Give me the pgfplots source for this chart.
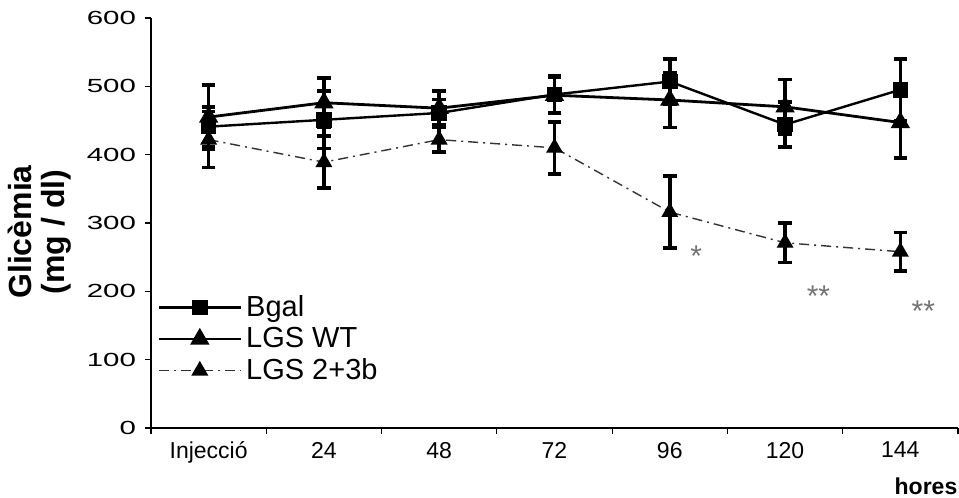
\documentclass[border=0pt]{standalone}
\usepackage{fontspec}
\setmainfont{Liberation Sans}
\newfontfamily\wideticks[FakeStretch=1.55]{Liberation Sans}
\usepackage{pgfplots}
\pgfplotsset{compat=1.18}

\begin{document}
\begin{tikzpicture}
\useasboundingbox (-75.5pt,-35pt) rectangle (404pt,214pt);
\begin{axis}[
    scale only axis,
    width=403.5pt, height=205pt,
    xmin=-0.5, xmax=6.5,
    ymin=0, ymax=600,
    axis lines*=left,
    axis line style={line width=0.7pt},
    xtick={0,...,6},
    xticklabels={Injecció,24,48,72,96,120,144},
    major x tick style={draw=none},
    minor xtick={-0.5,0.5,...,6.5},
    minor x tick style={line width=0.6pt},
    minor tick length=3pt,
    ytick={0,100,...,600},
    major tick length=3pt,
    tick align=outside,
    tick style={line width=0.6pt, black},
    xticklabel style={font=\fontsize{11.5}{13}\selectfont, yshift=-0.5pt},
    yticklabel style={font=\wideticks\fontsize{9.5}{11}\selectfont, xshift=-1pt},
    /pgf/number format/assume math mode=true,
    legend style={draw=none, fill=none, at={(0.005,0.095)}, anchor=south west,
        font=\fontsize{14.5}{16}\selectfont, row sep=0pt, inner sep=1pt},
    legend cell align=left,
    legend image code/.code={
        \draw[mark repeat=2, mark phase=2, #1] plot coordinates {(0cm,0cm) (0.72cm,0cm) (1.44cm,0cm)};
    },
    error bars/error bar style={line width=1.8pt, black, solid},
    error bars/error mark options={line width=1.8pt, mark size=3.4pt, black, solid, rotate=90},
]
% Bgal
\addplot[black, line width=1.2pt, mark=square*, mark size=3.3pt, mark options={solid},
    error bars/.cd, y dir=both, y explicit]
coordinates {
    (0,441) +- (0,29)
    (1,451) +- (0,42)
    (2,461) +- (0,20)
    (3,488) +- (0,27)
    (4,507) +- (0,33)
    (5,444) +- (0,33)
    (6,495) +- (0,45)
};
\addlegendentry{Bgal}
% LGS WT
\addplot[black, line width=1.4pt, mark=triangle*, mark size=4.2pt, mark options={solid},
    error bars/.cd, y dir=both, y explicit]
coordinates {
    (0,455) +- (0,47)
    (1,476) +- (0,36)
    (2,468) +- (0,25)
    (3,487) +- (0,27)
    (4,480) +- (0,40)
    (5,470) +- (0,40)
    (6,447) +- (0,52)
};
\addlegendentry{LGS WT}
% LGS 2+3b
\addplot[black!80, line width=0.7pt, dash pattern=on 5pt off 2.5pt on 1pt off 2.5pt,
    mark=triangle*, mark size=4.2pt, mark options={solid, black},
    error bars/.cd, y dir=both, y explicit]
coordinates {
    (0,422) +- (0,41)
    (1,389) +- (0,38)
    (2,422) +- (0,18)
    (3,410) +- (0,38)
    (4,316) +- (0,53)
    (5,271) +- (0,29)
    (6,258) +- (0,28)
};
\addlegendentry{LGS 2+3b}
\node[text=black!55, font=\fontsize{15}{15}\selectfont] at (axis cs:4.23,252) {*};
\node[text=black!55, font=\fontsize{15}{15}\selectfont] at (axis cs:5.29,193) {**};
\node[text=black!55, font=\fontsize{15}{15}\selectfont] at (axis cs:6.20,171) {**};
\end{axis}
\node[rotate=90, align=center, font=\bfseries\fontsize{16}{16.5}\selectfont] at (-55.5pt,98pt) {Glicèmia\\(mg / dl)};
\node[font=\bfseries\fontsize{11.5}{12}\selectfont, inner sep=1pt] at (387.5pt,-29pt) {hores};
\end{tikzpicture}
\end{document}
